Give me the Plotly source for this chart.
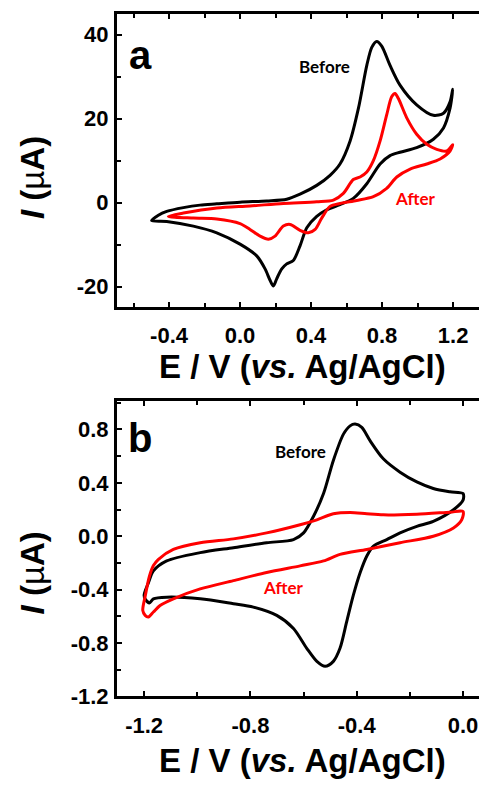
import plotly.graph_objects as go

# ---------------- data: panel a (E in V, I in uA) ----------------
a_before_E = [-0.498, -0.46, -0.413, -0.319, -0.225, -0.131, 0.0, 0.15, 0.263, 0.338, 0.432, 0.507,
              0.563, 0.62, 0.667, 0.714, 0.742, 0.77, 0.798, 0.845, 0.901, 0.995, 1.089, 1.146,
              1.183, 1.198,
              1.183, 1.146, 1.089, 0.995, 0.901, 0.845, 0.789, 0.714, 0.638, 0.563, 0.488, 0.432,
              0.376, 0.338, 0.3, 0.263, 0.235, 0.207, 0.188, 0.169, 0.141, 0.094, 0.0, -0.131,
              -0.263, -0.413, -0.498]
a_before_I = [-4.3, -3.0, -2.1, -1.2, -0.6, -0.3, 0.1, 0.4, 0.8, 2.0, 4.1, 6.5,
              9.2, 14.7, 22.5, 32.7, 37.0, 38.4, 37.3, 32.7, 28.0, 23.3, 20.8, 21.3,
              24.0, 27.0,
              22.5, 17.8, 15.1, 13.1, 12.0, 11.2, 9.2, 4.5, 1.0, -0.5, -1.7, -3.3,
              -6.0, -10.3, -13.8, -14.6, -15.8, -18.1, -19.9, -18.5, -15.8, -12.7, -9.9, -7.2,
              -5.6, -4.5, -4.3]

a_after_E = [-0.404, -0.319, -0.131, 0.056, 0.244, 0.432, 0.526, 0.582, 0.638, 0.676, 0.714,
             0.751, 0.789, 0.826, 0.854, 0.873, 0.892, 0.939, 0.995, 1.052, 1.108, 1.164, 1.198,
             1.183, 1.127, 1.052, 0.958, 0.883, 0.826, 0.751, 0.657, 0.563, 0.507, 0.46, 0.423,
             0.385, 0.338, 0.282, 0.244, 0.197, 0.16, 0.113, 0.056, 0.0, -0.131, -0.263, -0.404]
a_after_I = [-3.3, -2.5, -1.3, -0.8, -0.2, 0.2, 0.6, 2.2, 5.5, 6.1, 7.3,
             10.0, 14.7, 20.9, 25.2, 26.0, 24.8, 20.2, 16.3, 13.9, 12.7, 12.3, 13.8,
             12.3, 10.4, 9.2, 8.0, 6.1, 3.4, 1.4, 0.5, -0.2, -0.9, -3.7, -6.4,
             -7.2, -6.6, -5.2, -5.6, -8.0, -8.75, -8.0, -6.4, -5.0, -3.9, -3.7, -3.3]

# ---------------- data: panel b ----------------
b_before_E = [-1.2, -1.184, -1.165, -1.115, -0.989, -0.864, -0.739, -0.638, -0.6, -0.563, -0.525,
              -0.488, -0.45, -0.425, -0.406, -0.381, -0.35, -0.3, -0.237, -0.174, -0.112, -0.049, 0.0,
              0.0, -0.036, -0.112, -0.174, -0.237, -0.287, -0.337, -0.362, -0.387, -0.413, -0.438,
              -0.463, -0.488, -0.519, -0.55, -0.588, -0.638, -0.701, -0.789, -0.864, -0.989, -1.115,
              -1.165, -1.18, -1.196, -1.2]
b_before_I = [-0.44, -0.35, -0.26, -0.185, -0.123, -0.086, -0.049, -0.025, 0.025, 0.148, 0.32,
              0.568, 0.765, 0.827, 0.84, 0.815, 0.716, 0.58, 0.48, 0.407, 0.358, 0.333, 0.32,
              0.27, 0.198, 0.111, 0.074, 0.025, -0.025, -0.074, -0.148, -0.272, -0.444, -0.642,
              -0.84, -0.938, -0.975, -0.938, -0.84, -0.691, -0.593, -0.531, -0.506, -0.469, -0.457,
              -0.469, -0.5, -0.47, -0.44]

b_after_E = [-1.205, -1.196, -1.18, -1.165, -1.146, -1.09, -0.989, -0.864, -0.739, -0.613, -0.55,
             -0.488, -0.425, -0.362, -0.3, -0.174, -0.049, 0.0,
             -0.005, -0.036, -0.112, -0.237, -0.362, -0.463, -0.525, -0.613, -0.739, -0.864,
             -0.989, -1.09, -1.14, -1.165, -1.184, -1.196, -1.205]
b_after_I = [-0.556, -0.45, -0.3, -0.22, -0.173, -0.099, -0.049, -0.02, 0.025, 0.086, 0.123,
             0.168, 0.178, 0.168, 0.16, 0.165, 0.18, 0.185,
             0.123, 0.062, 0.0, -0.049, -0.099, -0.136, -0.185, -0.222, -0.272, -0.333,
             -0.395, -0.469, -0.519, -0.568, -0.605, -0.593, -0.556]

# ---------------- ticks ----------------
a_xtick_vals = [-0.4, 0.0, 0.4, 0.8, 1.2]
a_xtick_text = ["-0.4", "0.0", "0.4", "0.8", "1.2"]
a_ytick_vals = [-20, 0, 20, 40]
a_ytick_text = ["-20", "0", "20", "40"]
b_xtick_vals = [-1.2, -0.8, -0.4, 0.0]
b_xtick_text = ["-1.2", "-0.8", "-0.4", "0.0"]
b_ytick_vals = [-1.2, -0.8, -0.4, 0.0, 0.4, 0.8]
b_ytick_text = ["-1.2", "-0.8", "-0.4", "0.0", "0.4", "0.8"]

W, H = 479, 791
BLACK = "#000000"
RED = "#ff0000"
TICKFONT = dict(family="Liberation Sans, Arial", size=22, color="black", weight="bold")

fig = go.Figure()
fig.add_trace(go.Scatter(x=a_before_E, y=a_before_I, mode="lines", xaxis="x", yaxis="y",
                         line=dict(color=BLACK, width=3, shape="spline", smoothing=0.8)))
fig.add_trace(go.Scatter(x=a_after_E, y=a_after_I, mode="lines", xaxis="x", yaxis="y",
                         line=dict(color=RED, width=3, shape="spline", smoothing=0.8)))
fig.add_trace(go.Scatter(x=b_before_E, y=b_before_I, mode="lines", xaxis="x2", yaxis="y2",
                         line=dict(color=BLACK, width=3, shape="spline", smoothing=0.8)))
fig.add_trace(go.Scatter(x=b_after_E, y=b_after_I, mode="lines", xaxis="x2", yaxis="y2",
                         line=dict(color=RED, width=3, shape="spline", smoothing=0.8)))

def px_x(p):
    return p / W

def px_y(p):
    return 1 - p / H

def xax(rng, tv, tt, minor_dtick, anchor):
    return dict(range=rng, domain=[px_x(117), 1], anchor=anchor,
                showline=True, linewidth=3, linecolor="black", mirror="ticks",
                ticks="inside", ticklen=5, tickwidth=2, tickcolor="black",
                tickvals=tv, ticktext=tt, tickfont=TICKFONT, ticklabelstandoff=7,
                minor=dict(ticks="inside", ticklen=4, tickwidth=2, tickcolor="black", dtick=minor_dtick, tick0=0),
                showgrid=False, zeroline=False)

def yax(rng, tv, tt, minor_dtick, dom, anchor):
    return dict(range=rng, domain=dom, anchor=anchor,
                showline=True, linewidth=3, linecolor="black", mirror=False,
                ticks="inside", ticklen=5, tickwidth=2, tickcolor="black",
                tickvals=tv, ticktext=tt, tickfont=TICKFONT, ticklabelstandoff=1,
                minor=dict(ticks="inside", ticklen=4, tickwidth=2, tickcolor="black", dtick=minor_dtick, tick0=0),
                showgrid=False, zeroline=False)

fig.update_layout(
    width=W, height=H, margin=dict(l=0, r=0, t=0, b=0),
    paper_bgcolor="white", plot_bgcolor="white", showlegend=False,
    xaxis=xax([-0.693, 1.346], a_xtick_vals, a_xtick_text, 0.2, "y"),
    yaxis=yax([-24.85, 45.0], a_ytick_vals, a_ytick_text, 10, [px_y(312), px_y(14)], "x"),
    xaxis2=xax([-1.302, 0.060], b_xtick_vals, b_xtick_text, 0.2, "y2"),
    yaxis2=yax([-1.2, 1.011], b_ytick_vals, b_ytick_text, 0.2, [px_y(708), px_y(408)], "x2"),
)

TITLE_FONT = dict(family="Liberation Sans, Arial", size=33, color="black")
ann = []
for cy in (373, 773):
    ann.append(dict(text="<b>E / V (<i>vs.</i> Ag/AgCl)</b>", x=px_x(302), y=px_y(cy),
                    xref="paper", yref="paper", xanchor="center", yanchor="middle",
                    showarrow=False, font=TITLE_FONT))
for cy in (180, 582):
    ann.append(dict(text="<b><i>I</i> (</b>µ<b>A)</b>", x=px_x(32), y=px_y(cy), textangle=-90,
                    xref="paper", yref="paper", xanchor="center", yanchor="middle",
                    showarrow=False, font=TITLE_FONT))
LABEL_FONT = dict(family="Liberation Sans, Arial", size=40, color="black", weight="bold")
ann.append(dict(text="a", x=px_x(140), y=px_y(56), xref="paper", yref="paper", showarrow=False,
                xanchor="center", yanchor="middle", font=LABEL_FONT))
ann.append(dict(text="b", x=px_x(140), y=px_y(445), xref="paper", yref="paper", showarrow=False,
                xanchor="center", yanchor="middle", font=LABEL_FONT))
NOTE = dict(family="Lato, Open Sans", size=17, weight="bold")
ann.append(dict(text="Before", x=px_x(324), y=px_y(68), xref="paper", yref="paper", showarrow=False,
                xanchor="center", yanchor="middle", font=dict(NOTE, color=BLACK)))
ann.append(dict(text="After", x=px_x(415), y=px_y(202), xref="paper", yref="paper", showarrow=False,
                xanchor="center", yanchor="middle", font=dict(NOTE, color=RED)))
ann.append(dict(text="Before", x=px_x(300), y=px_y(459), xref="paper", yref="paper", showarrow=False,
                xanchor="center", yanchor="middle", font=dict(NOTE, color=BLACK)))
ann.append(dict(text="After", x=px_x(283), y=px_y(597), xref="paper", yref="paper", showarrow=False,
                xanchor="center", yanchor="middle", font=dict(NOTE, color=RED)))
fig.update_layout(annotations=ann)

fig.write_html("out.html")
